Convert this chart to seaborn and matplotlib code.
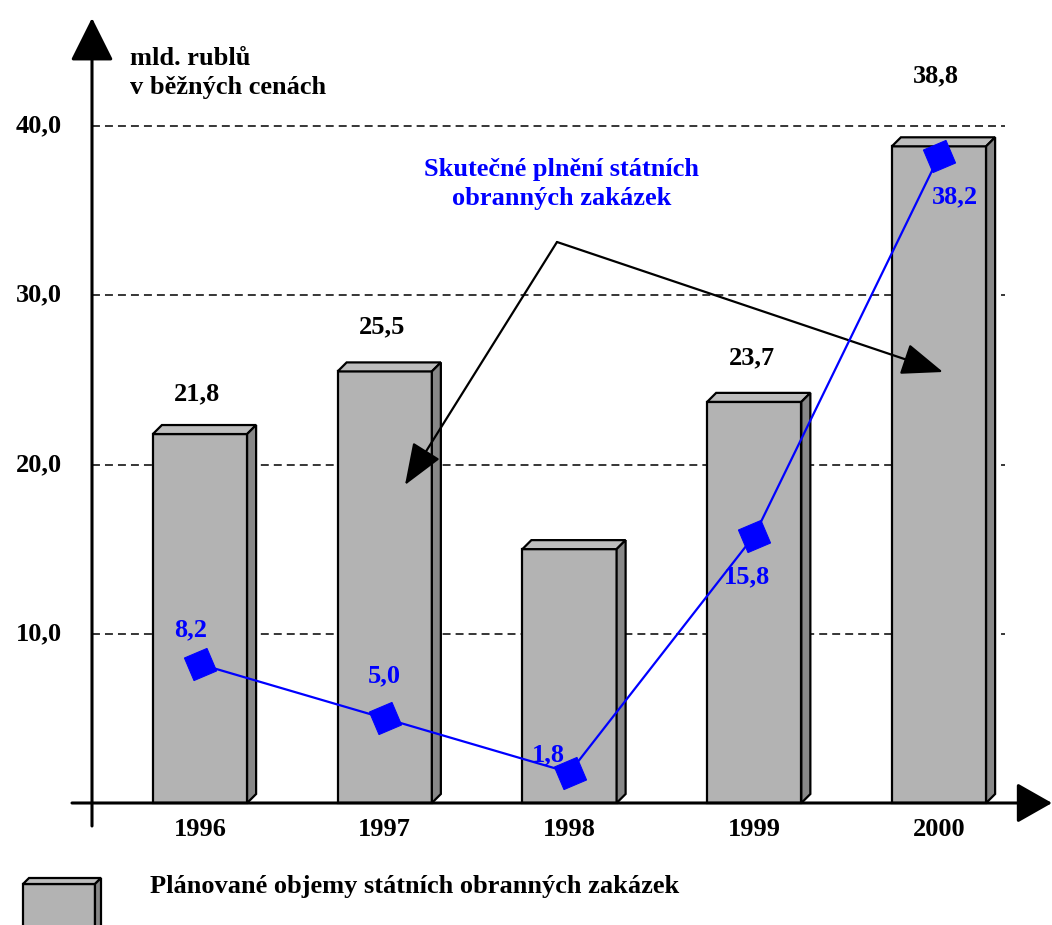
import matplotlib
matplotlib.use("Agg")
import matplotlib.pyplot as plt
import seaborn as sns
import pandas as pd
import numpy as np
from matplotlib.patches import Polygon

# ---- data ----
years = ["1996", "1997", "1998", "1999", "2000"]
planned = [21.8, 25.5, 15.0, 23.7, 38.8]
actual = [8.2, 5.0, 1.8, 15.8, 38.2]
planned_labels = ["21,8", "25,5", "", "23,7", "38,8"]
actual_labels = ["8,2", "5,0", "1,8", "15,8", "38,2"]
yticks = [10, 20, 30, 40]
ytick_labels = ["10,0", "20,0", "30,0", "40,0"]
unit_label = "mld. rublů\nv běžných cenách"
annot_text = "Skutečné plnění státních\nobranných zakázek"
legend_text = "Plánované objemy státních obranných zakázek"

df = pd.DataFrame({"year": years, "planned": planned, "actual": actual})

sns.set_style("white")
plt.rcParams["font.family"] = ["Liberation Serif", "DejaVu Serif"]
plt.rcParams["font.weight"] = "bold"

W, H = 1052, 925
fig = plt.figure(figsize=(W / 100, H / 100), dpi=100)
ax = fig.add_axes([0, 0, 1, 1])

# pixel <-> data mapping
X0, SX = 200.0, 184.75
Y0, SY = 803.0, 16.925


def dx(px):
    return (px - X0) / SX


def dy(py):
    return (Y0 - py) / SY


FRONT = "#B3B3B3"
TOP = "#BDBDBD"
SIDE = "#888888"
BLUE = "#0000FF"
FS = 19

# bars
sns.barplot(data=df, x="year", y="planned", color=FRONT, saturation=1,
            width=0.51, edgecolor="black", linewidth=1.6, ax=ax, zorder=2)

ddx = 9 / SX
ddy = 9 / SY
for p in list(ax.patches):
    x0 = p.get_x()
    x1 = x0 + p.get_width()
    h = p.get_height()
    top = Polygon([(x0, h), (x0 + ddx, h + ddy), (x1 + ddx, h + ddy), (x1, h)],
                  closed=True, facecolor=TOP, edgecolor="black", lw=1.6, zorder=2)
    side = Polygon([(x1, 0), (x1 + ddx, ddy), (x1 + ddx, h + ddy), (x1, h)],
                   closed=True, facecolor=SIDE, edgecolor="black", lw=1.6, zorder=2)
    ax.add_patch(top)
    ax.add_patch(side)

# line
xpos = np.arange(len(years))
sns.lineplot(x=xpos, y=df["actual"], color=BLUE, linewidth=1.6,
             marker=(4, 0, 68), markersize=25, markeredgecolor=BLUE,
             markerfacecolor=BLUE, ax=ax, zorder=4)

ax.set_xlim(dx(0), dx(W))
ax.set_ylim(dy(H), dy(0))
ax.axis("off")

# grid lines
ax.hlines(yticks, dx(92), dx(1005), colors="black", linewidth=1.1,
          linestyles=[(0, (5.2, 3.3))], zorder=1)

# y tick labels
for v, lab in zip(yticks, ytick_labels):
    ax.text(dx(62), v, lab, ha="right", va="center", fontsize=FS,
            fontweight="bold", color="black")

# year labels
for i, y in enumerate(years):
    ax.text(i, dy(829), y, ha="center", va="center", fontsize=FS,
            fontweight="bold", color="black")

# planned value labels (offset above bars, in points)
plan_off = [29, 32, 0, 32, 51]
for i, (v, lab) in enumerate(zip(planned, planned_labels)):
    if lab:
        ax.annotate(lab, (i, v), xytext=(-2, plan_off[i]), textcoords="offset points",
                    ha="center", va="center", fontsize=FS, fontweight="bold",
                    color="black", zorder=5)

# actual value labels
act_off = [(-6.5, 25), (0, 31), (-15, 13), (-5, -30), (11.5, -29)]
for i, (v, lab) in enumerate(zip(actual, actual_labels)):
    ax.annotate(lab, (i, v), xytext=act_off[i], textcoords="offset points",
                ha="center", va="center", fontsize=FS, fontweight="bold",
                color=BLUE, zorder=5)

# axes with arrows
axis_arrow = dict(arrowstyle="-|>,head_length=27,head_width=13.5",
                  mutation_scale=1, lw=2.2, color="black",
                  shrinkA=0, shrinkB=0)
ax.annotate("", xy=(dx(92), dy(18)), xytext=(dx(92), dy(826)),
            arrowprops=axis_arrow, zorder=6)
ax.annotate("", xy=(dx(1052), dy(803)), xytext=(dx(72), dy(803)),
            arrowprops=dict(axis_arrow, arrowstyle="-|>,head_length=22,head_width=12.5"),
            zorder=6)

# unit label
ax.text(dx(130), dy(73), unit_label, ha="left", va="center", fontsize=FS,
        fontweight="bold", color="black", linespacing=1.35)

# annotation text and arrows
ax.text(dx(562), dy(184), annot_text, ha="center", va="center", fontsize=FS,
        fontweight="bold", color=BLUE, linespacing=1.35)
ann_arrow = dict(arrowstyle="-|>,head_length=26,head_width=10",
                 mutation_scale=1, lw=1.6, color="black",
                 shrinkA=0, shrinkB=0)
ax.annotate("", xy=(dx(405), dy(485)), xytext=(dx(557), dy(242)),
            arrowprops=ann_arrow, zorder=3)
ax.annotate("", xy=(dx(943), dy(372)), xytext=(dx(557), dy(242)),
            arrowprops=ann_arrow, zorder=3)

# legend (3D box + text), in pixel coords
lx0, lx1, ltop, lbot = 23, 95, 884, 940
d = 6
front = Polygon([(dx(lx0), dy(ltop)), (dx(lx1), dy(ltop)), (dx(lx1), dy(lbot)), (dx(lx0), dy(lbot))],
                closed=True, facecolor=FRONT, edgecolor="black", lw=1.6, zorder=2)
ltopf = Polygon([(dx(lx0), dy(ltop)), (dx(lx0 + d), dy(ltop - d)), (dx(lx1 + d), dy(ltop - d)), (dx(lx1), dy(ltop))],
                closed=True, facecolor=TOP, edgecolor="black", lw=1.6, zorder=2)
lside = Polygon([(dx(lx1), dy(ltop)), (dx(lx1 + d), dy(ltop - d)), (dx(lx1 + d), dy(lbot)), (dx(lx1), dy(lbot))],
                closed=True, facecolor=SIDE, edgecolor="black", lw=1.6, zorder=2)
for pp in (front, ltopf, lside):
    ax.add_patch(pp)
ax.text(dx(150), dy(887), legend_text, ha="left", va="center", fontsize=FS,
        fontweight="bold", color="black")

fig.savefig("out.png", dpi=100)
